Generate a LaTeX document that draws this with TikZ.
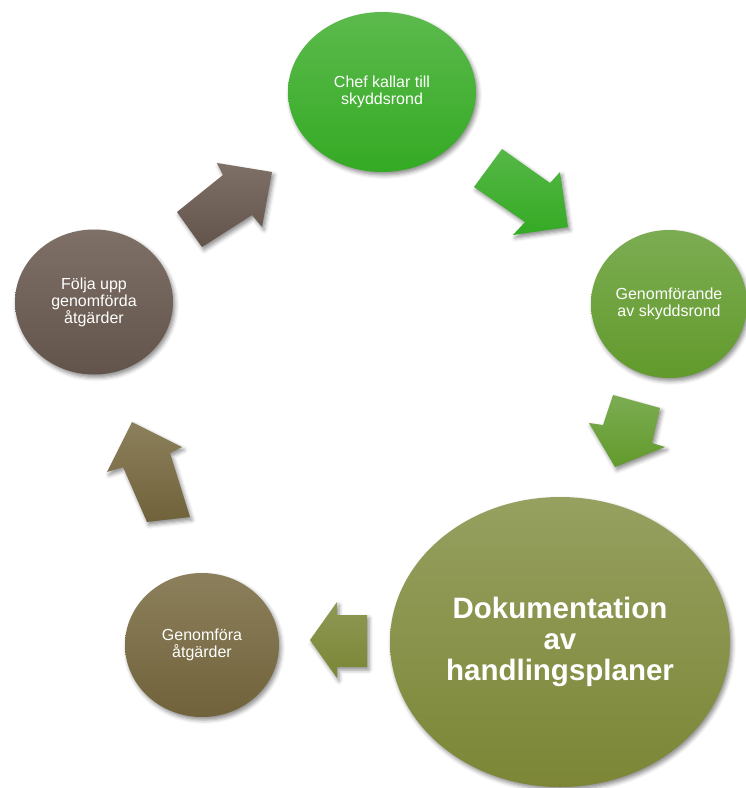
\documentclass[tikz,border=0pt]{standalone}
\usepackage{fontspec}
\setmainfont{Liberation Sans}
\usetikzlibrary{shapes.geometric,shadows.blur}
\definecolor{cAt}{RGB}{92,186,76}\definecolor{cAb}{RGB}{52,170,36}
\definecolor{cBt}{RGB}{124,172,82}\definecolor{cBb}{RGB}{98,154,44}
\definecolor{cCt}{RGB}{150,160,96}\definecolor{cCb}{RGB}{124,134,54}
\definecolor{cDt}{RGB}{140,128,92}\definecolor{cDb}{RGB}{112,98,58}
\definecolor{cEt}{RGB}{126,112,102}\definecolor{cEb}{RGB}{98,84,74}
\tikzset{
  softshadow/.style={blur shadow={shadow xshift=2pt,shadow yshift=-3pt,shadow blur radius=4pt,shadow opacity=45}},
  stepnode/.style={ellipse,inner sep=0pt,text=white,align=center,softshadow,
     font=\fontsize{16}{17}\selectfont},
  bigtext/.style={font=\bfseries\fontsize{29.5}{31}\selectfont},
  blockarrow/.style={softshadow},
}
\begin{document}
\begin{tikzpicture}[x=1pt,y=-1pt]
\useasboundingbox (0,0) rectangle (746,788);
% nodes
\node[stepnode,minimum width=188pt,minimum height=160pt,top color=cAt,bottom color=cAb] (chef) at (382,92) {Chef kallar till\\skyddsrond};
\node[stepnode,minimum width=156pt,minimum height=148pt,top color=cBt,bottom color=cBb] (genomf) at (669,304) {Genomförande\\av skyddsrond};
\node[stepnode,bigtext,minimum width=340pt,minimum height=290pt,top color=cCt,bottom color=cCb] (dok) at (560,642) {Dokumentation\\av\\handlingsplaner};
\node[stepnode,minimum width=154pt,minimum height=144pt,top color=cDt,bottom color=cDb] (atg) at (202,645) {Genomföra\\åtgärder};
\node[stepnode,minimum width=158pt,minimum height=145pt,top color=cEt,bottom color=cEb] (folja) at (94,302) {Följa upp\\genomförda\\åtgärder};
% block arrows
\path[blockarrow,top color=cAt!85!cAb,bottom color=cAb]
  (502,149) -- (550,183) -- (560,172) -- (568,227) -- (513,235) -- (525,222) -- (474,187) -- cycle;
\path[blockarrow,top color=cBt,bottom color=cBb]
  (613,395) -- (660,408) -- (652,443) -- (665,447) -- (615,467) -- (589,423) -- (603,425) -- cycle;
\path[blockarrow,top color=cCt!70!cCb,bottom color=cCb]
  (367,615) -- (337,615) -- (337,602) -- (310,640) -- (337,678) -- (337,667) -- (367,667) -- cycle;
\path[blockarrow,top color=cDt,bottom color=cDb]
  (132,422) -- (182,447) -- (170,453) -- (190,517) -- (147,522) -- (123,467) -- (107,472) -- cycle;
\path[blockarrow,top color=cEt,bottom color=cEb]
  (177,212) -- (223,175) -- (217,163) -- (272,172) -- (262,227) -- (252,215) -- (202,247) -- cycle;
\end{tikzpicture}
\end{document}
